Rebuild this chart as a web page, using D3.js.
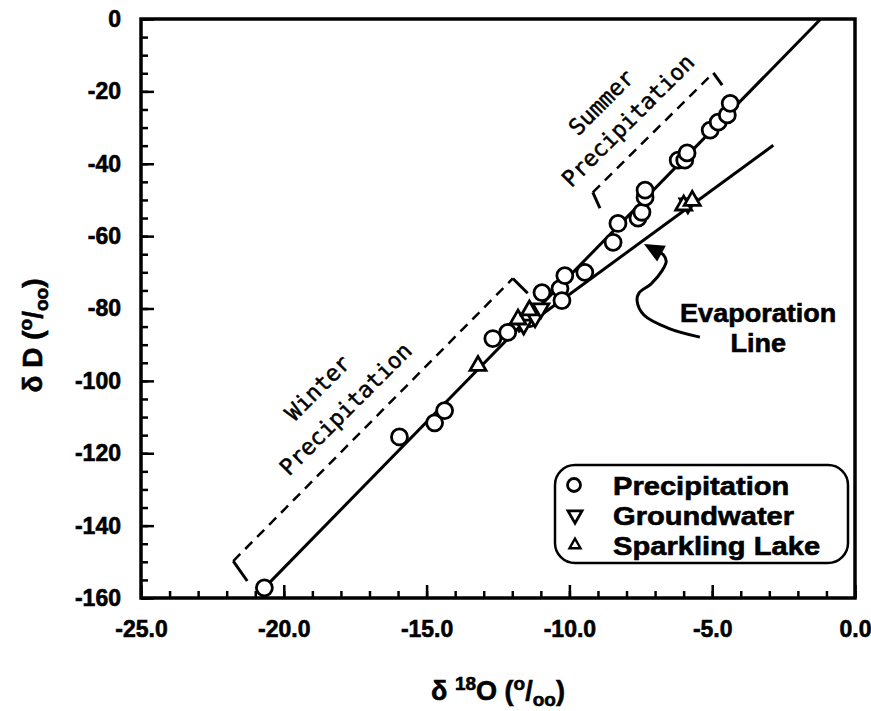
<!DOCTYPE html>
<html>
<head>
<meta charset="utf-8">
<script src="https://cdn.jsdelivr.net/npm/d3@7"></script>
<style>
  body { margin: 0; background: #fff; }
  text { font-family: "Liberation Sans", Arial, sans-serif; font-weight: bold; fill: #000; stroke: #000; stroke-width: 0.6; }
  .mono { font-family: "DejaVu Sans Mono", monospace; font-weight: normal; stroke-width: 0.5; }
</style>
</head>
<body>
<svg id="chart" width="871" height="711"></svg>
<script>
// 降水 (δ18O, δD)
const precipX = [-20.68, -15.95, -14.72, -14.37, -12.68, -12.16, -11.39, -10.96, -10.33, -10.26, -10.16, -9.46,
  -8.47, -8.30, -7.60, -7.46, -7.35, -7.35, -6.19, -5.96, -5.88, -5.07, -4.79, -4.47, -4.37];
const precipY = [-157.2, -115.5, -111.6, -108.2, -88.3, -86.6, -82.8, -75.6, -74.5, -77.8, -70.9, -70.0,
  -61.7, -56.5, -55.0, -53.4, -49.3, -47.3, -39.0, -39.0, -37.0, -30.7, -28.5, -26.5, -23.3];

// 地下水
const groundX = [-11.6, -11.2, -11.0, -5.85];
const groundY = [-84.5, -82.5, -80.0, -51.0];

// Sparkling Lake
const lakeX = [-13.2, -11.8, -11.4, -6.0, -5.7];
const lakeY = [-95.8, -83.0, -80.5, -51.5, -50.2];

// 線 (端点)
const mwlX = [-20.68, -1.2];
const mwlY = [-157.2, 0];
const evapX = [-11.8, -2.86];
const evapY = [-86.5, -34.9];

// 目盛り
const xMajor = [-25, -20, -15, -10, -5, 0];
const yMajor = [0, -20, -40, -60, -80, -100, -120, -140, -160];

// 注記 (データ座標)
const winterBracketX = [-21.28, -21.77, -11.98, -11.46];
const winterBracketY = [-155.3, -149.8, -71.7, -75.8];
const summerBracketX = [-8.93, -9.18, -4.96, -4.65];
const summerBracketY = [-52.3, -47.9, -14.9, -18.3];
const arrowX = [-5.43, -6.55, -7.39, -7.63, -7.56, -7.14, -6.76, -6.61, -6.72, -7.39];
const arrowY = [-87.9, -85.4, -81.8, -77.9, -75.7, -73.2, -69.6, -66.9, -65.1, -62.2];

const legendItems = ["Precipitation", "Groundwater", "Sparkling Lake"];

const W = 871, H = 711;
const margin = { top: 19, right: 16, bottom: 113, left: 141 };

const svg = d3.select("#chart");

const x = d3.scaleLinear().domain([-25, 0]).range([margin.left, W - margin.right]);
const y = d3.scaleLinear().domain([-160, 0]).range([H - margin.bottom, margin.top]);

const tri = (s, up) => {
  const h = s * Math.sqrt(3) / 2;
  const k = up ? -1 : 1;
  return `M0,${k * h * 2 / 3}L${-s / 2},${-k * h / 3}L${s / 2},${-k * h / 3}Z`;
};

// 軸 (小目盛り)
svg.append("g")
  .attr("transform", `translate(0,${y(-160)})`)
  .call(d3.axisBottom(x).tickValues(d3.range(-25, 1, 1)).tickSize(-7).tickFormat(""))
  .call(g => g.select(".domain").remove());
svg.append("g")
  .attr("transform", `translate(${x(-25)},0)`)
  .call(d3.axisLeft(y).tickValues(d3.range(-160, 1, 5)).tickSize(-7).tickFormat(""))
  .call(g => g.select(".domain").remove());

// 軸 (主目盛り)
svg.append("g")
  .attr("transform", `translate(0,${y(-160)})`)
  .call(d3.axisBottom(x).tickValues(xMajor).tickSize(-13).tickPadding(23).tickFormat(d => d.toFixed(1)))
  .call(g => g.select(".domain").remove());
svg.append("g")
  .attr("transform", `translate(${x(-25)},0)`)
  .call(d3.axisLeft(y).tickValues(yMajor).tickSize(-13).tickPadding(20).tickFormat(d => String(d)))
  .call(g => g.select(".domain").remove());

svg.selectAll(".tick line").attr("stroke", "#000").attr("stroke-width", 2.5);
svg.selectAll(".tick text").attr("font-size", 23).attr("font-family", "Liberation Sans, Arial, sans-serif")
  .attr("font-weight", "bold").attr("fill", "#000");

// 枠
svg.append("rect")
  .attr("x", x(-25)).attr("y", y(0))
  .attr("width", x(0) - x(-25)).attr("height", y(-160) - y(0))
  .attr("fill", "none").attr("stroke", "#000").attr("stroke-width", 3.5);

// 線
const line = d3.line().x(d => x(d[0])).y(d => y(d[1]));
svg.append("path")
  .attr("d", line(d3.zip(mwlX, mwlY)))
  .attr("fill", "none").attr("stroke", "#000").attr("stroke-width", 3);
svg.append("path")
  .attr("d", line(d3.zip(evapX, evapY)))
  .attr("fill", "none").attr("stroke", "#000").attr("stroke-width", 3);

// 括弧 (破線)
[[winterBracketX, winterBracketY], [summerBracketX, summerBracketY]].forEach(([bx, by]) => {
  const pts = d3.zip(bx, by);
  svg.append("path").attr("d", line([pts[0], pts[1]]))
    .attr("stroke", "#000").attr("stroke-width", 3).attr("fill", "none");
  svg.append("path").attr("d", line([pts[2], pts[3]]))
    .attr("stroke", "#000").attr("stroke-width", 3).attr("fill", "none");
  svg.append("path").attr("d", line([pts[1], pts[2]]))
    .attr("stroke", "#000").attr("stroke-width", 2.5).attr("stroke-dasharray", "10,7").attr("fill", "none");
});

// 注記テキスト
const monoText = (tx, ty, str) => svg.append("text")
  .attr("class", "mono")
  .attr("transform", `translate(${x(tx)},${y(ty)}) rotate(-45)`)
  .attr("text-anchor", "middle")
  .attr("dominant-baseline", "central")
  .attr("font-size", 22.5)
  .text(str);
monoText(-18.82, -101.9, "Winter");
monoText(-17.84, -107.7, "Precipitation");
monoText(-8.89, -23.0, "Summer");
monoText(-7.95, -28.0, "Precipitation");

// 蒸発線の矢印
const ap = d3.zip(arrowX, arrowY).map(d => [x(d[0]), y(d[1])]);
{
  const [x1, y1] = ap[ap.length - 2], [x2, y2] = ap[ap.length - 1];
  const ang = Math.atan2(y2 - y1, x2 - x1);
  const base = [x2 - 16 * Math.cos(ang), y2 - 16 * Math.sin(ang)];
  svg.append("path")
    .attr("d", d3.line().curve(d3.curveCatmullRom)(ap.slice(0, -1).concat([base])))
    .attr("fill", "none").attr("stroke", "#000").attr("stroke-width", 3);
  svg.append("path")
    .attr("d", "M0,0L-20,-9L-20,9Z")
    .attr("transform", `translate(${x2},${y2}) rotate(${ang * 180 / Math.PI})`)
    .attr("fill", "#000");
}
const evLabel = svg.append("g")
  .attr("transform", `translate(${x(-3.39)},${y(-83.6)}) scale(1.04,1)`);
evLabel.append("text").attr("text-anchor", "middle").attr("font-size", 26).text("Evaporation");
evLabel.append("text").attr("y", 30).attr("text-anchor", "middle").attr("font-size", 26).text("Line");

// データ点
svg.append("g").selectAll("circle")
  .data(d3.zip(precipX, precipY))
  .enter().append("circle")
  .attr("cx", d => x(d[0])).attr("cy", d => y(d[1]))
  .attr("r", 8)
  .attr("fill", "#fff").attr("stroke", "#000").attr("stroke-width", 2.8);

svg.append("g").selectAll("path")
  .data(d3.zip(groundX, groundY))
  .enter().append("path")
  .attr("d", tri(16, false))
  .attr("transform", d => `translate(${x(d[0])},${y(d[1])})`)
  .attr("fill", "#fff").attr("stroke", "#000").attr("stroke-width", 2.8);

svg.append("g").selectAll("path")
  .data(d3.zip(lakeX, lakeY))
  .enter().append("path")
  .attr("d", tri(16, true))
  .attr("transform", d => `translate(${x(d[0])},${y(d[1])})`)
  .attr("fill", "#fff").attr("stroke", "#000").attr("stroke-width", 2.8);

// 凡例
const lg = svg.append("g").attr("transform", "translate(555,465)");
lg.append("rect")
  .attr("width", 293).attr("height", 98).attr("rx", 20)
  .attr("fill", "#fff").attr("stroke", "#000").attr("stroke-width", 2.5);
const row = lg.selectAll("g.row")
  .data(legendItems)
  .enter().append("g")
  .attr("transform", (d, i) => `translate(0,${20 + i * 30})`);
row.append("text")
  .attr("transform", "translate(58,10) scale(1.12,1)")
  .attr("font-size", 26)
  .text(d => d);
row.filter((d, i) => i === 0).append("circle")
  .attr("cx", 19).attr("cy", 0).attr("r", 6.5)
  .attr("fill", "none").attr("stroke", "#000").attr("stroke-width", 2.8);
row.filter((d, i) => i === 1).append("path")
  .attr("d", tri(14, false)).attr("transform", "translate(20,0)")
  .attr("fill", "none").attr("stroke", "#000").attr("stroke-width", 2.8);
row.filter((d, i) => i === 2).append("path")
  .attr("d", tri(11, true)).attr("transform", "translate(20,0)")
  .attr("fill", "none").attr("stroke", "#000").attr("stroke-width", 2.4);

// 軸タイトル
const yt = svg.append("text")
  .attr("transform", `translate(42,${(y(0) + y(-160)) / 2 + 27}) rotate(-90)`)
  .attr("text-anchor", "middle").attr("font-size", 28);
yt.append("tspan").text("δ D (");
yt.append("tspan").attr("font-size", 19).attr("dy", -10).text("o");
yt.append("tspan").attr("dy", 10).text("/");
yt.append("tspan").attr("font-size", 19).attr("dy", 6).text("oo");
yt.append("tspan").attr("dy", -6).text(")");

const xt = svg.append("text")
  .attr("x", (x(-25) + x(0)) / 2).attr("y", 700)
  .attr("text-anchor", "middle").attr("font-size", 27);
xt.append("tspan").text("δ ");
xt.append("tspan").attr("font-size", 19).attr("dy", -10).text("18");
xt.append("tspan").attr("dy", 10).text("O (");
xt.append("tspan").attr("font-size", 19).attr("dy", -10).text("o");
xt.append("tspan").attr("dy", 10).text("/");
xt.append("tspan").attr("font-size", 19).attr("dy", 6).text("oo");
xt.append("tspan").attr("dy", -6).text(")");
</script>
</body>
</html>
